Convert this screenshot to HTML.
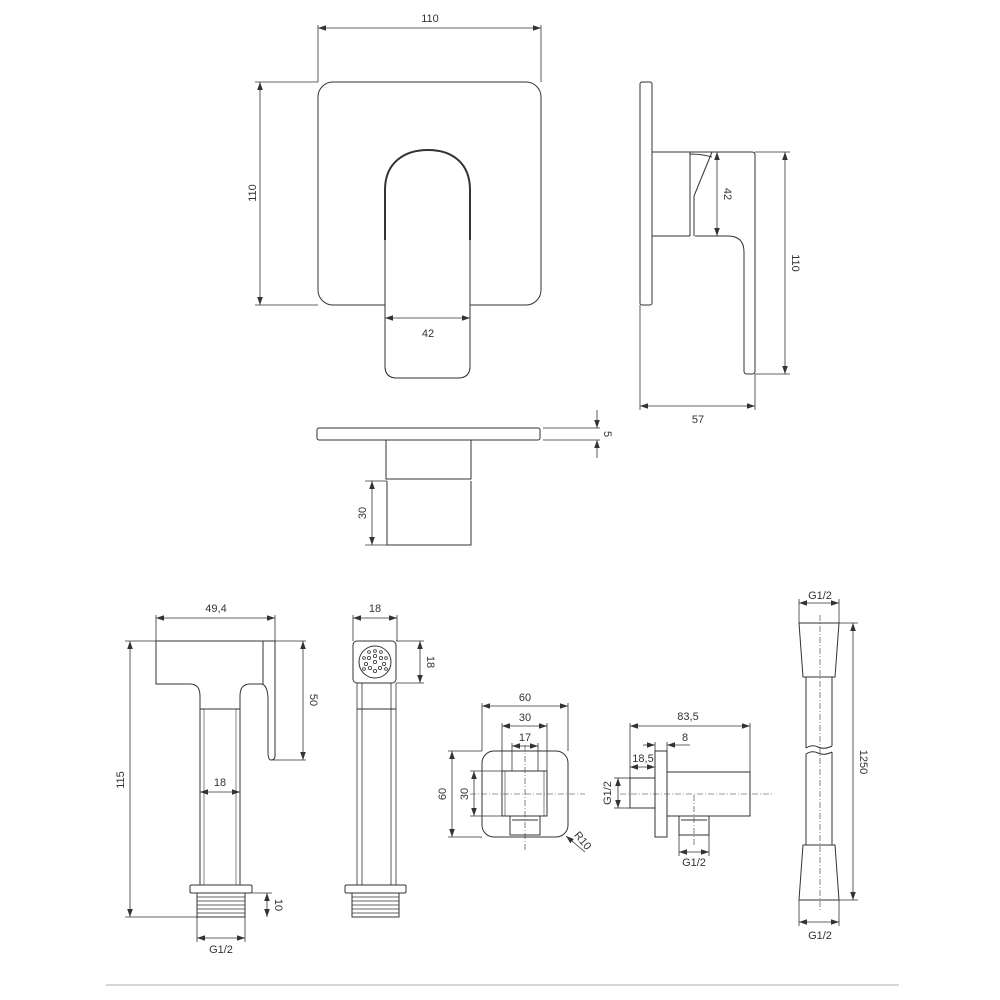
<!DOCTYPE html>
<html><head><meta charset="utf-8"><style>
html,body{margin:0;padding:0;background:#fff}
svg{display:block}
text{font-family:"Liberation Sans",sans-serif;font-size:11px;fill:#333}
</style></head><body>
<svg width="1000" height="1000" viewBox="0 0 1000 1000" xmlns="http://www.w3.org/2000/svg">
<defs>
<marker id="a" viewBox="0 0 10 10" refX="10" refY="5" markerWidth="8" markerHeight="8" orient="auto-start-reverse" markerUnits="userSpaceOnUse"><path d="M0,1.5 L10,5 L0,8.5 z" fill="#333"/></marker>
</defs>
<g fill="none" stroke="#333" stroke-width="1">
<!-- TOP FRONT VIEW -->
<rect x="318" y="82" width="223" height="223" rx="15" fill="#fff"/>
<path d="M385 240 L385 190 C385 162 405 150 428 150 C451 150 470 162 470 190 L470 240" stroke-width="2"/>
<path d="M385 240 L385 366 Q385 378 397 378 L458 378 Q470 378 470 366 L470 240" fill="#fff"/>
<path d="M385 305 V366 Q385 378 397 378 H458 Q470 378 470 366 V305" fill="#fff"/>
<line x1="318" y1="25" x2="318" y2="82" stroke-width="0.8"/>
<line x1="541" y1="25" x2="541" y2="82" stroke-width="0.8"/>
<line x1="318" y1="28" x2="541" y2="28" marker-start="url(#a)" marker-end="url(#a)" stroke-width="0.8"/>
<line x1="255" y1="82" x2="318" y2="82" stroke-width="0.8"/>
<line x1="255" y1="305" x2="318" y2="305" stroke-width="0.8"/>
<line x1="260" y1="82" x2="260" y2="305" marker-start="url(#a)" marker-end="url(#a)" stroke-width="0.8"/>
<line x1="385" y1="318" x2="470" y2="318" marker-start="url(#a)" marker-end="url(#a)" stroke-width="0.8"/>

<!-- SIDE VIEW -->
<rect x="640" y="82" width="12" height="223" rx="2"/>
<path d="M652 152 H752 Q755 152 755 155 V371 Q755 374 752 374 H747 Q744 374 744 371 V252 Q744 236 728 236 H695"/>
<line x1="652" y1="236" x2="690" y2="236"/>
<path d="M690 236 V152 M694 236 V196 L712 152 M690 154 Q702 154 712 157"/>
<line x1="755" y1="152" x2="790" y2="152" stroke-width="0.8"/>
<line x1="755" y1="374" x2="790" y2="374" stroke-width="0.8"/>
<line x1="785" y1="152" x2="785" y2="374" marker-start="url(#a)" marker-end="url(#a)" stroke-width="0.8"/>
<line x1="717" y1="152" x2="717" y2="236" marker-start="url(#a)" marker-end="url(#a)" stroke-width="0.8"/>
<line x1="640" y1="305" x2="640" y2="410" stroke-width="0.8"/>
<line x1="755" y1="374" x2="755" y2="410" stroke-width="0.8"/>
<line x1="640" y1="406" x2="755" y2="406" marker-start="url(#a)" marker-end="url(#a)" stroke-width="0.8"/>

<!-- BOTTOM VIEW OF VALVE -->
<rect x="317" y="428" width="223" height="12" rx="2"/>
<line x1="543" y1="428" x2="600" y2="428" stroke-width="0.8"/>
<line x1="543" y1="440" x2="600" y2="440" stroke-width="0.8"/>
<line x1="597" y1="410" x2="597" y2="428" marker-end="url(#a)" stroke-width="0.8"/>
<line x1="597" y1="458" x2="597" y2="440" marker-end="url(#a)" stroke-width="0.8"/>
<path d="M386 440 V479 H471 V440"/>
<path d="M387 481 V545 H471 V481"/>
<line x1="365" y1="481" x2="387" y2="481" stroke-width="0.8"/>
<line x1="365" y1="545" x2="387" y2="545" stroke-width="0.8"/>
<line x1="372" y1="481" x2="372" y2="545" marker-start="url(#a)" marker-end="url(#a)" stroke-width="0.8"/>

<!-- BIDET SPRAY FRONT -->
<path d="M156 641 H275 V756 Q275 760 271 760 Q268 760 268 752 V700 Q268 686 262 684 H250 Q240 684 240 696 V885"/>
<path d="M156 641 V684 H190 Q200 684 200 696 V885"/>
<line x1="263" y1="641" x2="263" y2="684"/>
<line x1="200" y1="709" x2="240" y2="709"/>
<line x1="204" y1="709" x2="204" y2="885" stroke-width="0.6"/>
<line x1="236" y1="709" x2="236" y2="885" stroke-width="0.6"/>
<rect x="190" y="885" width="62" height="8" rx="1.5"/>
<rect x="197" y="893" width="48" height="24"/>
<g stroke-width="0.7">
<line x1="197" y1="897" x2="245" y2="897"/><line x1="197" y1="901" x2="245" y2="901"/><line x1="197" y1="905" x2="245" y2="905"/><line x1="197" y1="909" x2="245" y2="909"/><line x1="197" y1="913" x2="245" y2="913"/>
</g>
<line x1="156" y1="615" x2="156" y2="641" stroke-width="0.8"/>
<line x1="275" y1="615" x2="275" y2="641" stroke-width="0.8"/>
<line x1="156" y1="618" x2="275" y2="618" marker-start="url(#a)" marker-end="url(#a)" stroke-width="0.8"/>
<line x1="125" y1="641" x2="156" y2="641" stroke-width="0.8"/>
<line x1="125" y1="917" x2="197" y2="917" stroke-width="0.8"/>
<line x1="130" y1="641" x2="130" y2="917" marker-start="url(#a)" marker-end="url(#a)" stroke-width="0.8"/>
<line x1="275" y1="641" x2="306" y2="641" stroke-width="0.8"/>
<line x1="272" y1="760" x2="306" y2="760" stroke-width="0.8"/>
<line x1="303" y1="641" x2="303" y2="760" marker-start="url(#a)" marker-end="url(#a)" stroke-width="0.8"/>
<line x1="200" y1="792" x2="240" y2="792" marker-start="url(#a)" marker-end="url(#a)" stroke-width="0.8"/>
<line x1="252" y1="893" x2="272" y2="893" stroke-width="0.8"/>
<line x1="267" y1="893" x2="267" y2="917" marker-start="url(#a)" marker-end="url(#a)" stroke-width="0.8"/>
<line x1="197" y1="917" x2="197" y2="942" stroke-width="0.8"/>
<line x1="245" y1="917" x2="245" y2="942" stroke-width="0.8"/>
<line x1="197" y1="938" x2="245" y2="938" marker-start="url(#a)" marker-end="url(#a)" stroke-width="0.8"/>

<!-- BIDET SPRAY SIDE -->
<rect x="353" y="641" width="43" height="42" rx="4"/>
<circle cx="375" cy="662" r="16"/>
<g fill="none" stroke-width="0.8">
<circle cx="375" cy="656" r="1.6"/><circle cx="381" cy="658" r="1.6"/><circle cx="369" cy="658" r="1.6"/>
<circle cx="375" cy="662" r="1.6"/><circle cx="384" cy="664" r="1.6"/><circle cx="366" cy="664" r="1.6"/>
<circle cx="380" cy="668" r="1.6"/><circle cx="370" cy="668" r="1.6"/><circle cx="375" cy="671" r="1.6"/>
<circle cx="386" cy="658" r="1.4"/><circle cx="364" cy="658" r="1.4"/><circle cx="375" cy="651" r="1.4"/>
<circle cx="381" cy="652" r="1.4"/><circle cx="369" cy="652" r="1.4"/><circle cx="386" cy="669" r="1.4"/><circle cx="364" cy="669" r="1.4"/>
</g>
<path d="M357 683 V885 M396 683 V885 M362 683 V885 M391 683 V885" stroke-width="0.8"/>
<line x1="357" y1="709" x2="396" y2="709"/>
<rect x="345" y="885" width="61" height="8" rx="1.5"/>
<rect x="352" y="893" width="47" height="24"/>
<g stroke-width="0.7">
<line x1="352" y1="897" x2="399" y2="897"/><line x1="352" y1="901" x2="399" y2="901"/><line x1="352" y1="905" x2="399" y2="905"/><line x1="352" y1="909" x2="399" y2="909"/><line x1="352" y1="913" x2="399" y2="913"/>
</g>
<line x1="353" y1="615" x2="353" y2="641" stroke-width="0.8"/>
<line x1="397" y1="615" x2="397" y2="641" stroke-width="0.8"/>
<line x1="353" y1="618" x2="397" y2="618" marker-start="url(#a)" marker-end="url(#a)" stroke-width="0.8"/>
<line x1="396" y1="641" x2="424" y2="641" stroke-width="0.8"/>
<line x1="396" y1="683" x2="424" y2="683" stroke-width="0.8"/>
<line x1="420" y1="641" x2="420" y2="683" marker-start="url(#a)" marker-end="url(#a)" stroke-width="0.8"/>

<!-- WALL ELBOW FRONT -->
<rect x="482" y="751" width="86" height="86" rx="12"/>
<rect x="502" y="771" width="45" height="45"/>
<path d="M505 771 V816 M544 771 V816" stroke-width="0.6"/>
<path d="M510 816 V835 H540 V816 M512 820 H538" />
<line x1="525" y1="745" x2="525" y2="852" stroke-dasharray="6 2 1 2" stroke-width="0.6"/>
<line x1="470" y1="794" x2="585" y2="794" stroke-dasharray="6 2 1 2" stroke-width="0.6"/>
<line x1="482" y1="703" x2="482" y2="751" stroke-width="0.8"/>
<line x1="568" y1="703" x2="568" y2="751" stroke-width="0.8"/>
<line x1="482" y1="706" x2="568" y2="706" marker-start="url(#a)" marker-end="url(#a)" stroke-width="0.8"/>
<line x1="502" y1="723" x2="502" y2="771" stroke-width="0.8"/>
<line x1="547" y1="723" x2="547" y2="771" stroke-width="0.8"/>
<line x1="502" y1="726" x2="547" y2="726" marker-start="url(#a)" marker-end="url(#a)" stroke-width="0.8"/>
<line x1="512" y1="743" x2="512" y2="771" stroke-width="0.8"/>
<line x1="538" y1="743" x2="538" y2="771" stroke-width="0.8"/>
<line x1="512" y1="746" x2="538" y2="746" marker-start="url(#a)" marker-end="url(#a)" stroke-width="0.8"/>
<line x1="448" y1="751" x2="482" y2="751" stroke-width="0.8"/>
<line x1="448" y1="837" x2="482" y2="837" stroke-width="0.8"/>
<line x1="452" y1="751" x2="452" y2="837" marker-start="url(#a)" marker-end="url(#a)" stroke-width="0.8"/>
<line x1="470" y1="771" x2="502" y2="771" stroke-width="0.8"/>
<line x1="470" y1="816" x2="502" y2="816" stroke-width="0.8"/>
<line x1="474" y1="771" x2="474" y2="816" marker-start="url(#a)" marker-end="url(#a)" stroke-width="0.8"/>
<line x1="585" y1="852" x2="566" y2="836" marker-end="url(#a)" stroke-width="0.8"/>

<!-- WALL ELBOW SIDE -->
<rect x="655" y="751" width="12" height="86"/>
<rect x="630" y="778" width="25" height="30"/>
<rect x="667" y="772" width="83" height="44"/>
<path d="M679 816 V835 H709 V816 M681 820 H707"/>
<line x1="620" y1="794" x2="772" y2="794" stroke-dasharray="6 2 1 2" stroke-width="0.6"/>
<line x1="694" y1="795" x2="694" y2="846" stroke-dasharray="6 2 1 2" stroke-width="0.6"/>
<line x1="630" y1="723" x2="630" y2="778" stroke-width="0.8"/>
<line x1="750" y1="723" x2="750" y2="772" stroke-width="0.8"/>
<line x1="630" y1="726" x2="750" y2="726" marker-start="url(#a)" marker-end="url(#a)" stroke-width="0.8"/>
<line x1="655" y1="742" x2="655" y2="751" stroke-width="0.8"/>
<line x1="667" y1="742" x2="667" y2="751" stroke-width="0.8"/>
<line x1="643" y1="745" x2="655" y2="745" marker-end="url(#a)" stroke-width="0.8"/>
<line x1="690" y1="745" x2="667" y2="745" marker-end="url(#a)" stroke-width="0.8"/>
<line x1="630" y1="767" x2="655" y2="767" marker-start="url(#a)" marker-end="url(#a)" stroke-width="0.8"/>
<line x1="614" y1="778" x2="630" y2="778" stroke-width="0.8"/>
<line x1="614" y1="808" x2="630" y2="808" stroke-width="0.8"/>
<line x1="618" y1="778" x2="618" y2="808" marker-start="url(#a)" marker-end="url(#a)" stroke-width="0.8"/>
<line x1="679" y1="835" x2="679" y2="856" stroke-width="0.8"/>
<line x1="709" y1="835" x2="709" y2="856" stroke-width="0.8"/>
<line x1="679" y1="852" x2="709" y2="852" marker-start="url(#a)" marker-end="url(#a)" stroke-width="0.8"/>

<!-- HOSE -->
<path d="M799 623 H839 L835 677 H803 Z"/>
<path d="M803 845 H835 L839 900 H799 Z"/>
<path d="M806 677 V748 M832 677 V746 M806 754 V845 M832 752 V845"/>
<path d="M806 748 Q812 744 818 747 Q824 750 832 746 M806 754 Q812 750 818 753 Q824 756 832 752"/>
<line x1="820" y1="615" x2="820" y2="912" stroke-dasharray="6 2 1 2" stroke-width="0.6"/>
<line x1="799" y1="599" x2="799" y2="623" stroke-width="0.8"/>
<line x1="839" y1="599" x2="839" y2="623" stroke-width="0.8"/>
<line x1="799" y1="603" x2="839" y2="603" marker-start="url(#a)" marker-end="url(#a)" stroke-width="0.8"/>
<line x1="839" y1="623" x2="858" y2="623" stroke-width="0.8"/>
<line x1="839" y1="900" x2="858" y2="900" stroke-width="0.8"/>
<line x1="853" y1="623" x2="853" y2="900" marker-start="url(#a)" marker-end="url(#a)" stroke-width="0.8"/>
<line x1="799" y1="900" x2="799" y2="926" stroke-width="0.8"/>
<line x1="839" y1="900" x2="839" y2="926" stroke-width="0.8"/>
<line x1="799" y1="922" x2="839" y2="922" marker-start="url(#a)" marker-end="url(#a)" stroke-width="0.8"/>
</g>
<line x1="106" y1="985" x2="899" y2="985" stroke="#c8c8c8" stroke-width="1.5"/>

<!-- TEXT -->
<text x="430" y="22" text-anchor="middle">110</text>
<text transform="translate(256,193) rotate(-90)" text-anchor="middle">110</text>
<text x="428" y="337" text-anchor="middle">42</text>
<text transform="translate(724,194) rotate(90)" text-anchor="middle">42</text>
<text transform="translate(792,263) rotate(90)" text-anchor="middle">110</text>
<text x="698" y="423" text-anchor="middle">57</text>
<text transform="translate(604,434) rotate(90)" text-anchor="middle">5</text>
<text transform="translate(366,513) rotate(-90)" text-anchor="middle">30</text>
<text x="216" y="612" text-anchor="middle">49,4</text>
<text transform="translate(124,780) rotate(-90)" text-anchor="middle">115</text>
<text transform="translate(310,700) rotate(90)" text-anchor="middle">50</text>
<text x="220" y="786" text-anchor="middle">18</text>
<text transform="translate(275,905) rotate(90)" text-anchor="middle">10</text>
<text x="221" y="953" text-anchor="middle">G1/2</text>
<text x="375" y="612" text-anchor="middle">18</text>
<text transform="translate(427,662) rotate(90)" text-anchor="middle">18</text>
<text x="525" y="701" text-anchor="middle">60</text>
<text x="525" y="721" text-anchor="middle">30</text>
<text x="525" y="741" text-anchor="middle">17</text>
<text transform="translate(446,794) rotate(-90)" text-anchor="middle">60</text>
<text transform="translate(468,794) rotate(-90)" text-anchor="middle">30</text>
<text transform="translate(580,843) rotate(50)" text-anchor="middle">R10</text>
<text x="688" y="720" text-anchor="middle">83,5</text>
<text x="685" y="741" text-anchor="middle">8</text>
<text x="643" y="762" text-anchor="middle">18,5</text>
<text transform="translate(611,793) rotate(-90)" text-anchor="middle">G1/2</text>
<text x="694" y="866" text-anchor="middle">G1/2</text>
<text x="820" y="599" text-anchor="middle">G1/2</text>
<text transform="translate(860,762) rotate(90)" text-anchor="middle">1250</text>
<text x="820" y="939" text-anchor="middle">G1/2</text>
</svg>
</body></html>
